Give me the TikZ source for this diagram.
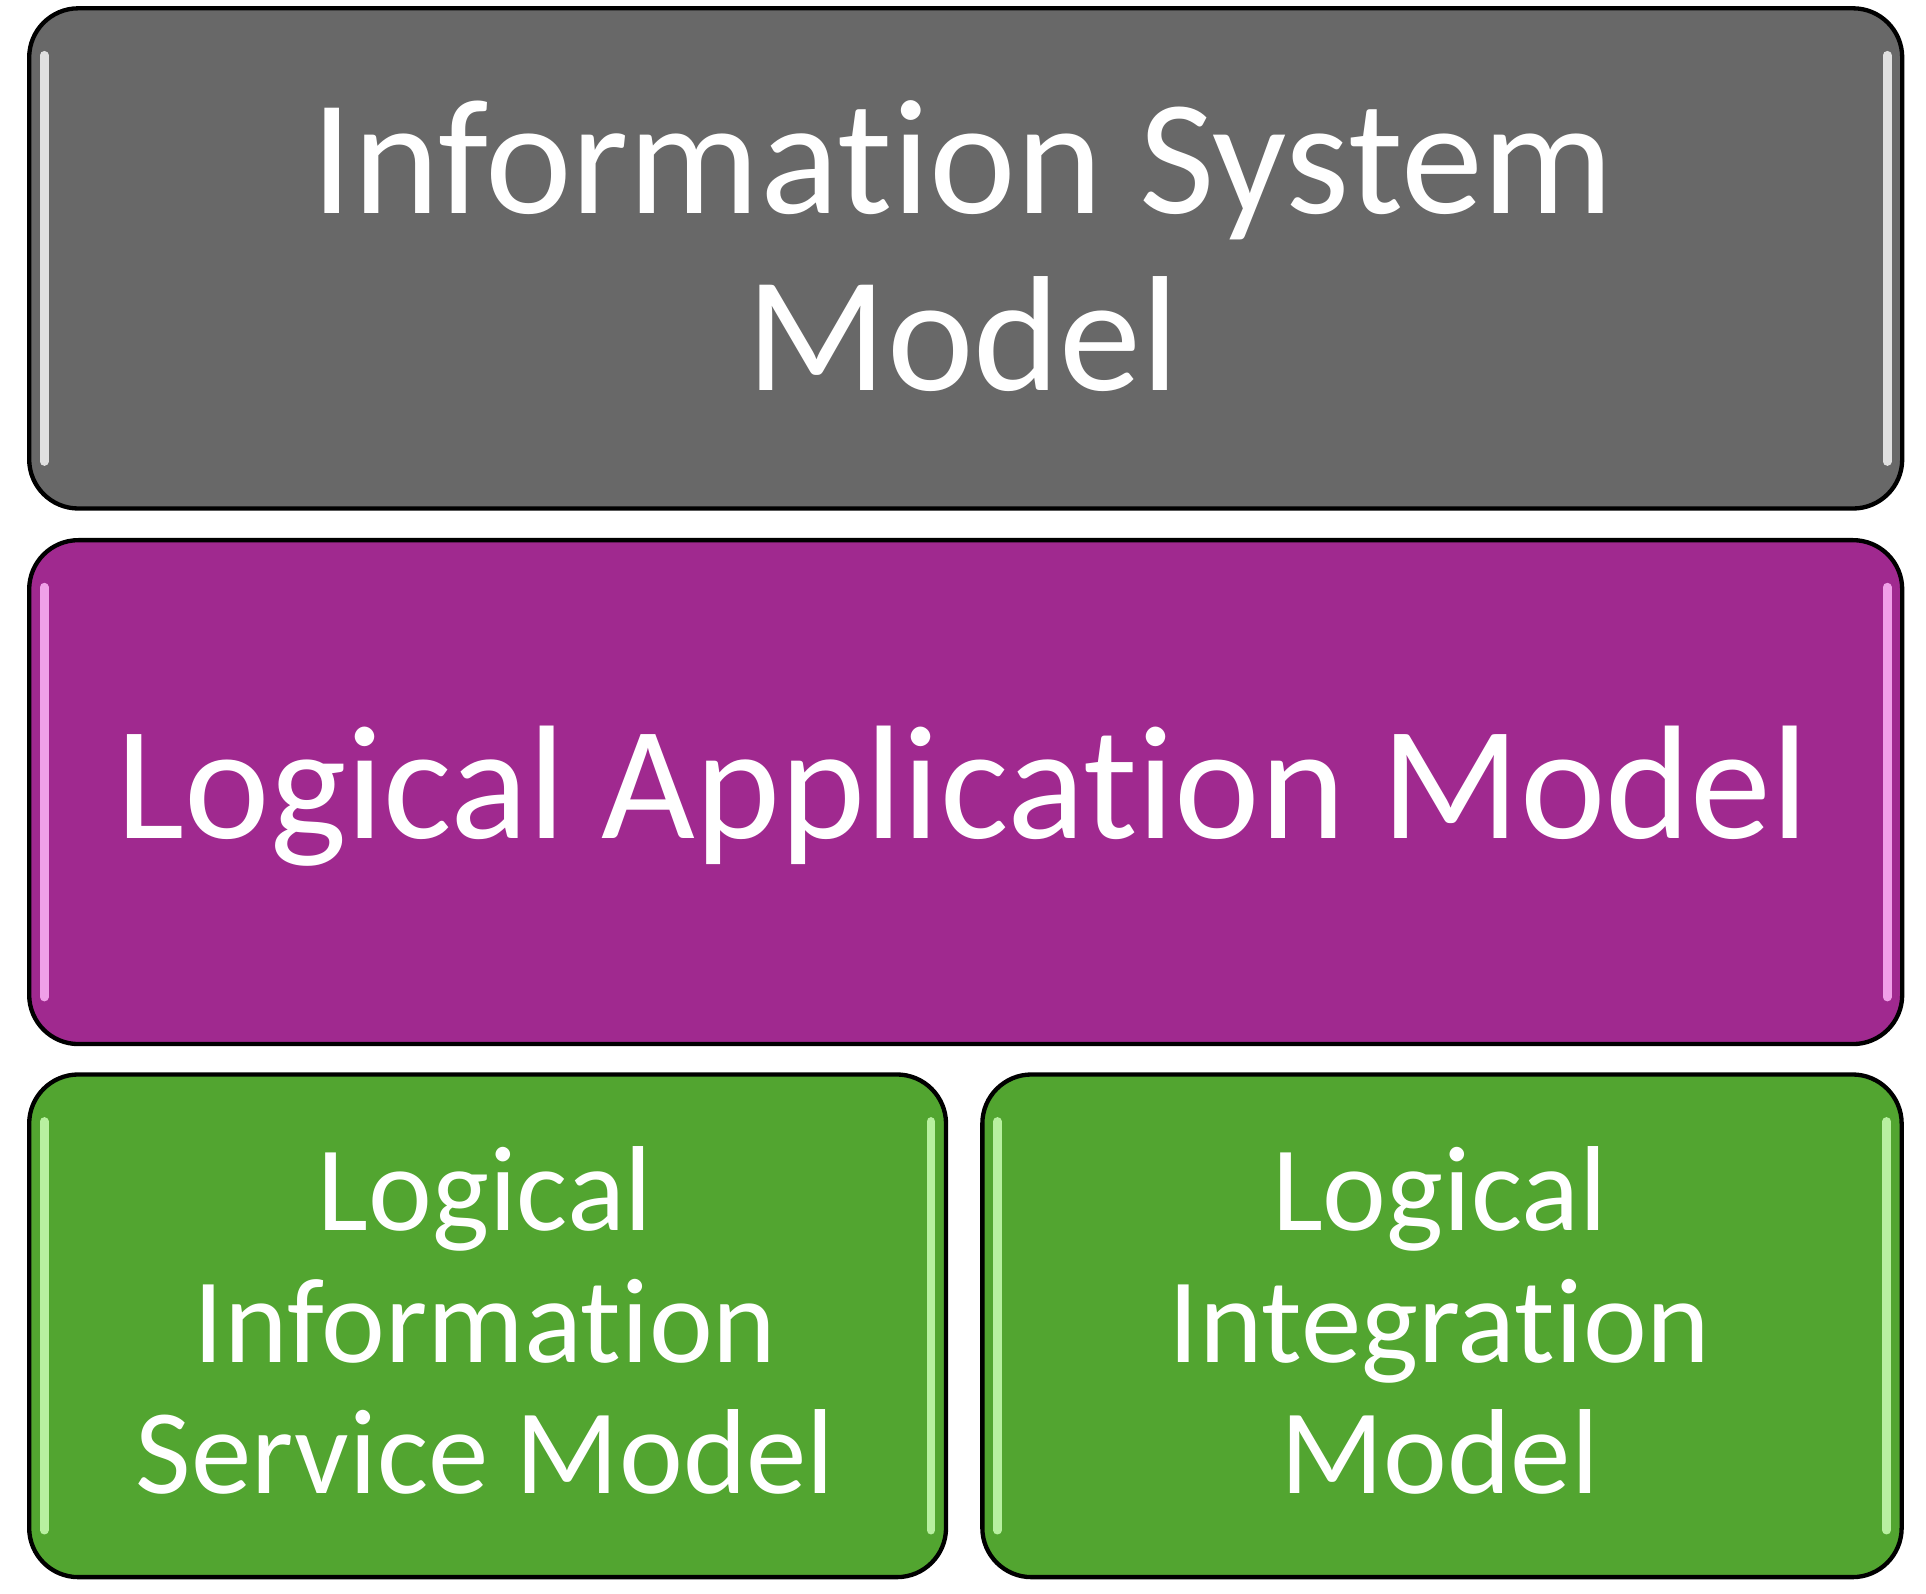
\documentclass[tikz,border=0pt]{standalone}
\usepackage{fontspec}
\setmainfont[Ligatures=NoCommon]{Carlito}
\definecolor{cgray}{HTML}{686868}
\definecolor{cpurple}{HTML}{A0298F}
\definecolor{cgreen}{HTML}{52A530}
\definecolor{lgray}{HTML}{E0E0E0}
\definecolor{lpurple}{HTML}{F0A0E8}
\definecolor{lgreen}{HTML}{B8F0A0}
\begin{document}
\begin{tikzpicture}[x=0.01cm,y=-0.01cm,
  boxstyle/.style={draw=black,line width=1pt,rounded corners=0.4cm,text=white,align=center,inner sep=0pt,anchor=north west},
  shine/.style={line width=2pt,line cap=round}]
\useasboundingbox (0,0) rectangle (1568,1297);
\node[boxstyle,fill=cgray,minimum width=15.24cm,minimum height=4.07cm] (ism) at (22,5) {};
\node[boxstyle,fill=cpurple,minimum width=15.24cm,minimum height=4.10cm] (lam) at (22,438) {};
\node[boxstyle,fill=cgreen,minimum width=7.46cm,minimum height=4.09cm] (lis) at (22,873) {};
\node[boxstyle,fill=cgreen,minimum width=7.48cm,minimum height=4.09cm] (lim) at (798,873) {};
% highlights
\foreach \n/\c in {ism/lgray,lam/lpurple,lis/lgreen,lim/lgreen}{
  \draw[shine,\c] ([shift={(14,40)}]\n.north west) -- ([shift={(14,-40)}]\n.south west);
  \draw[shine,\c] ([shift={(-14,40)}]\n.north east) -- ([shift={(-14,-40)}]\n.south east);
}
\node[text=white,align=center,font=\fontsize{38}{41}\selectfont] (ismt) at (784,200) {Information System\\Model};
\node[text=white,font=\fontsize{37.5}{45}\selectfont] (lamt) at (784,648) {Logical Application Model};
\node[text=white,align=center,font=\fontsize{28}{30.4}\selectfont] (list) at (395,1075) {Logical\\Information\\Service Model};
\node[text=white,align=center,font=\fontsize{28}{30.4}\selectfont] (limt) at (1172,1075) {Logical\\Integration\\Model};
\end{tikzpicture}
\end{document}
